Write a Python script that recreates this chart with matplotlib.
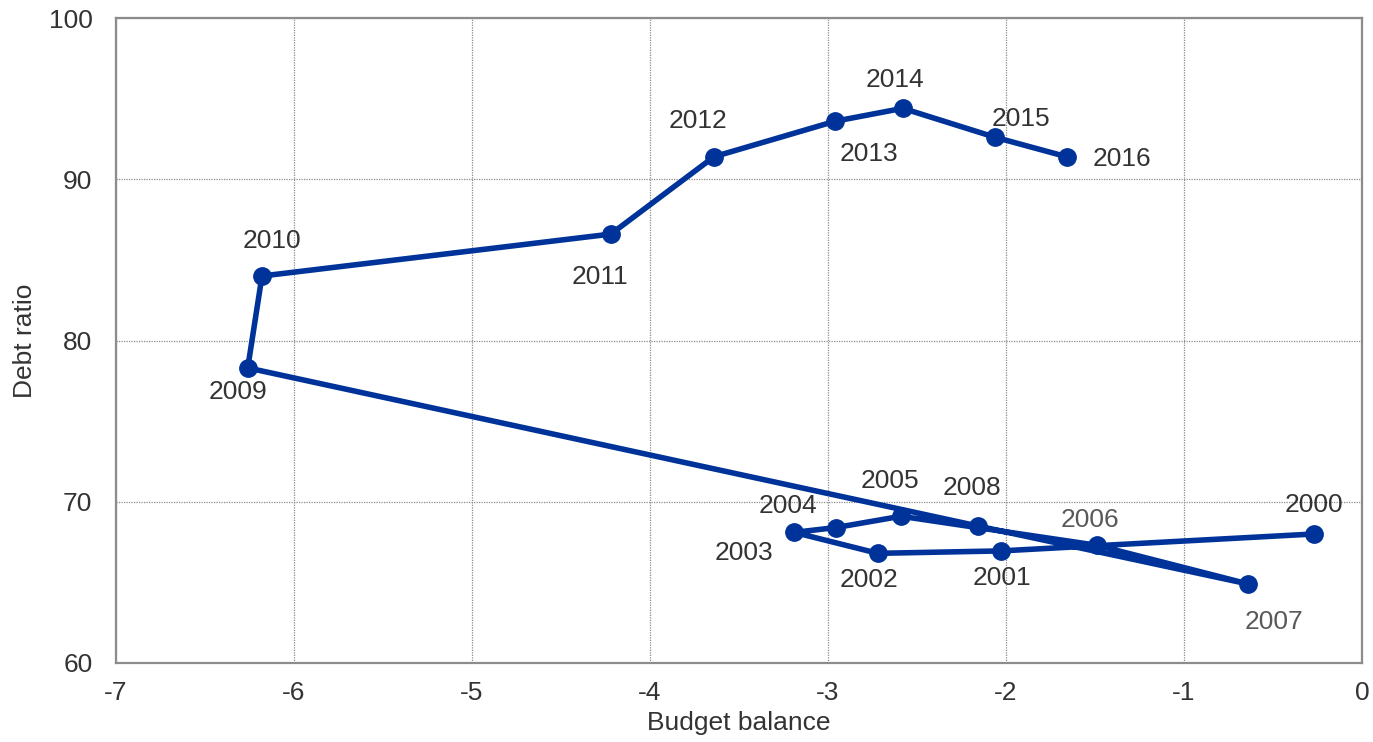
import matplotlib
matplotlib.use("Agg")
import matplotlib.pyplot as plt

years = ["2000", "2001", "2002", "2003", "2004", "2005", "2006", "2007", "2008",
         "2009", "2010", "2011", "2012", "2013", "2014", "2015", "2016"]
budget_balance = [-0.27, -2.03, -2.72, -3.19, -2.955, -2.59, -1.49, -0.64, -2.16,
                  -6.26, -6.18, -4.22, -3.64, -2.96, -2.58, -2.06, -1.66]
debt_ratio = [68.0, 66.95, 66.8, 68.1, 68.4, 69.1, 67.3, 64.9, 68.5,
              78.3, 84.0, 86.6, 91.4, 93.6, 94.4, 92.6, 91.4]

x_ticks = [-7, -6, -5, -4, -3, -2, -1, 0]
y_ticks = [60, 70, 80, 90, 100]

# label offsets in pixels (dx, dy up)
label_offsets = [(0, 29), (1, -27), (-9, -27), (-50, -21), (-48, 22), (-11, 35),
                 (-7, 25), (26, -38), (-6, 38), (-10, -24), (10, 35), (-11, -43),
                 (-16, 36), (34, -33), (-8, 28), (26, 18), (55, -2)]
light_labels = {"2006", "2007"}

plt.rcParams['font.family'] = ['Liberation Sans', 'DejaVu Sans']

fig = plt.figure(figsize=(13.73, 7.42), dpi=100)
ax = fig.add_axes([0.0845, 0.1065, 0.9075, 0.8692])

line_color = '#003399'
ax.plot(budget_balance, debt_ratio, color=line_color, linewidth=4.0,
        marker='o', markersize=12.5, zorder=3)

for yr, x, y, (dx, dy) in zip(years, budget_balance, debt_ratio, label_offsets):
    col = '#595959' if yr in light_labels else '#333333'
    ax.annotate(yr, (x, y), xytext=(dx * 0.72, dy * 0.72), textcoords='offset points',
                ha='center', va='center', fontsize=19, color=col, zorder=4)

ax.set_xlim(-7, 0)
ax.set_ylim(60, 100)
ax.set_xticks(x_ticks)
ax.set_yticks(y_ticks)
ax.set_xticklabels([str(t) for t in x_ticks])
ax.set_yticklabels([str(t) for t in y_ticks])
ax.tick_params(axis='both', length=0, labelsize=19, colors='#333333')
ax.tick_params(axis='x', pad=13)
ax.tick_params(axis='y', pad=17)

ax.grid(True, color='#8c8c8c', linestyle=(0, (1, 1)), linewidth=0.9, zorder=0)
ax.set_axisbelow(True)
for s in ax.spines.values():
    s.set_color('#8c8c8c')
    s.set_linewidth(1.6)

ax.set_xlabel('Budget balance', fontsize=19, color='#333333', labelpad=4)
ax.set_ylabel('Debt ratio', fontsize=19, color='#333333', labelpad=8)

fig.savefig('out.png', dpi=100)
